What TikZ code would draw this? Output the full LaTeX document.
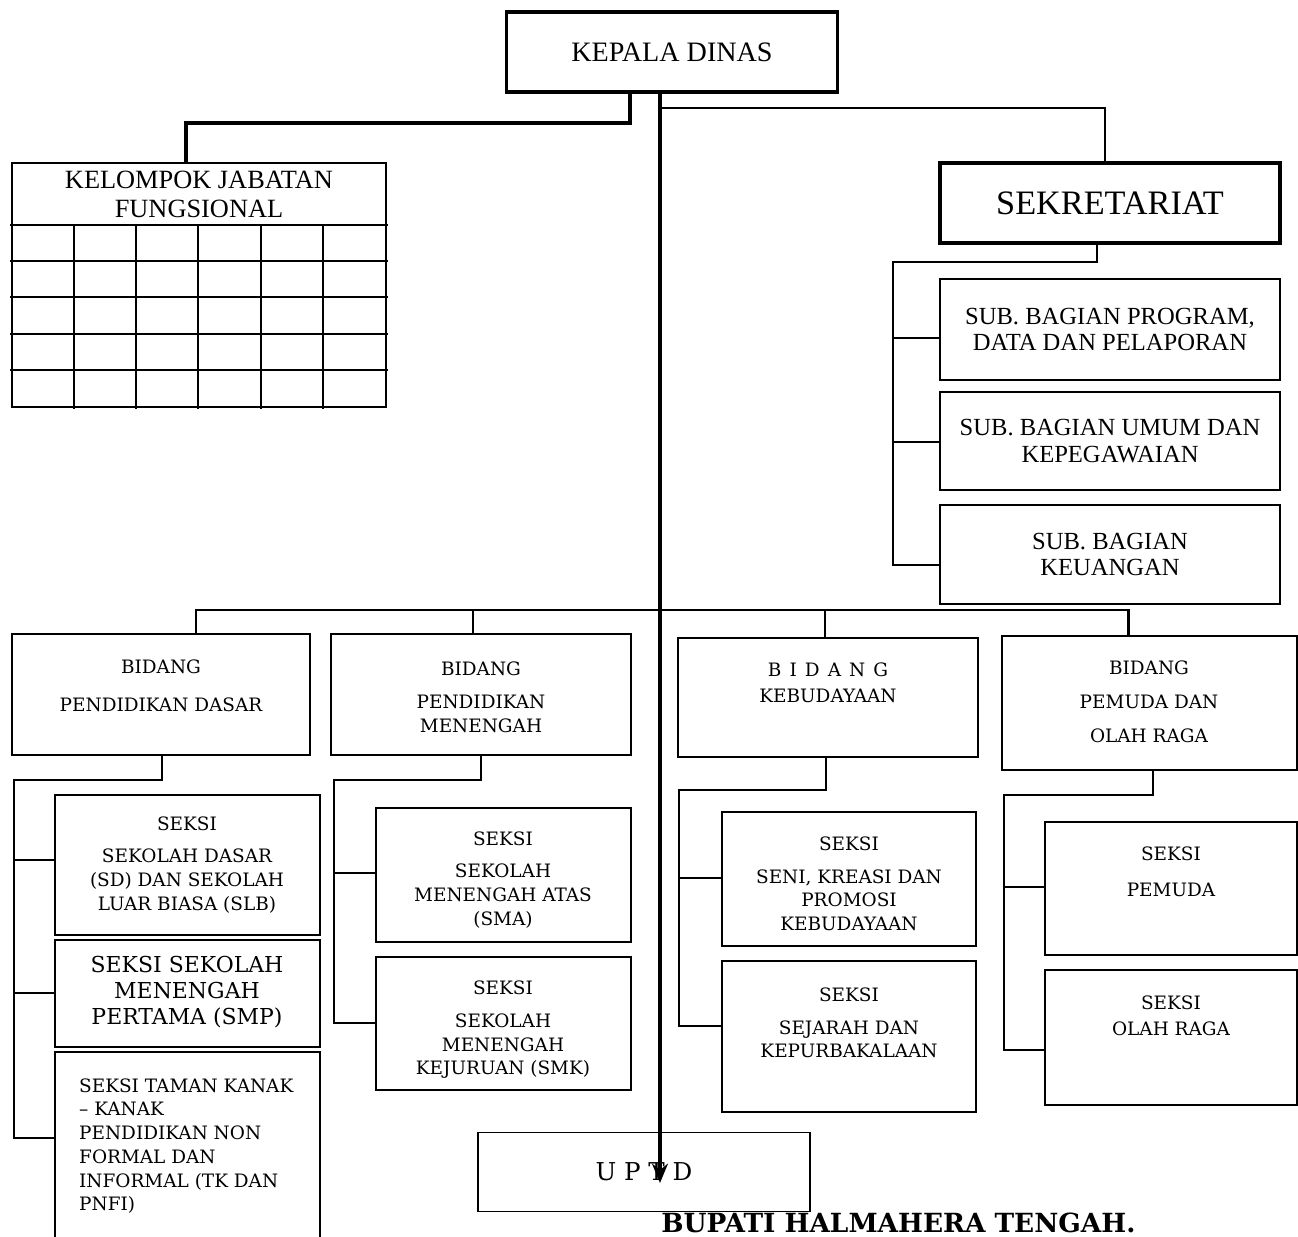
\documentclass[tikz,border=0pt]{standalone}
\usepackage{fontspec}
\setmainfont{Liberation Serif}
\newfontfamily\lowfont{DejaVu Serif}
\usetikzlibrary{arrows.meta,positioning}

\begin{document}
\begin{tikzpicture}[x=0.02cm,y=-0.02cm,line cap=rect,
                    box/.style 2 args={draw,rectangle,line width=1.1pt,inner sep=0pt,
                      minimum width=#1*0.02cm,minimum height=#2*0.02cm},
                    heavybox/.style 2 args={box={#1}{#2},line width=2.2pt}]
  \tikzstyle{toptext}=[align=center,font=\fontsize{14}{15}\selectfont]
  \tikzstyle{lowtext}=[align=center,font=\lowfont\fontsize{10.5}{13.5}\selectfont]
  \tikzstyle{heavy}=[line width=2.3pt]
  \tikzstyle{link}=[line width=0.9pt]
  \tikzstyle{twig}=[line width=1.4pt]
  \tikzstyle{bus}=[line width=1.7pt]

  \path[use as bounding box,fill=white] (0,0) rectangle (1298,1237);

  \node[heavybox={331}{80},font=\fontsize{16}{18}\selectfont]  (kepala) at (672,52)  {KEPALA DINAS};

  \node[box={374}{244},line width=1.4pt] (kjf)   at (199,285)   {};
  \node[toptext,font=\fontsize{15}{16.5}\selectfont] (kjf-t) at (199,194) {KELOMPOK JABATAN\\FUNGSIONAL};
  \foreach \y in {225,261,297,334,370}
    \draw[line width=1.4pt] (kjf.west |- 0,\y) -- (kjf.east |- 0,\y);
  \foreach \x in {74,136,198,261,323}
    \draw[line width=1.4pt] (\x,225) -- (\x,0 |- kjf.south);

  \node[heavybox={340}{80},font=\fontsize{19.5}{21}\selectfont] (sekr)  at (1110,203)   {SEKRETARIAT};
  \node[box={340}{101},toptext] (sub1) at (1110,329.5) {SUB. BAGIAN PROGRAM,\\DATA DAN PELAPORAN};
  \node[box={340}{98},toptext]  (sub2) at (1110,441)   {SUB. BAGIAN UMUM DAN\\KEPEGAWAIAN};
  \node[box={340}{99},toptext]  (sub3) at (1110,554.5) {SUB. BAGIAN\\KEUANGAN};

  \node[box={298}{121}] (bid1) at (161,694.5)  {};
  \node[box={300}{121}] (bid2) at (481,694.5)  {};
  \node[box={300}{119}] (bid3) at (828,697.5)  {};
  \node[box={295}{134}] (bid4) at (1149.5,703) {};
  \node[lowtext] (bid1-t) at (161,686)  {BIDANG\\[8pt]PENDIDIKAN DASAR};
  \node[lowtext] (bid2-t) at (481,697)  {BIDANG\\[5.5pt]PENDIDIKAN\\MENENGAH};
  \node[lowtext] (bid3-t) at (828,683)  {B\hspace{4.6pt}I\hspace{4.6pt}D\hspace{4.6pt}A\hspace{4.6pt}N\hspace{4.6pt}G\\[1pt]KEBUDAYAAN};
  \node[lowtext] (bid4-t) at (1149,702) {BIDANG\\[6pt]PEMUDA DAN\\[6pt]OLAH RAGA};

  \node[box={265}{140}] (sd)  at (187.5,865)    {};
  \node[box={265}{107}] (smp) at (187.5,993.5)  {};
  \node[box={265}{193}] (tk)  at (187.5,1148.5) {};
  \node[lowtext]  (sd-t)  at (187,865)  {SEKSI\\[5pt]SEKOLAH DASAR\\(SD) DAN SEKOLAH\\LUAR BIASA (SLB)};
  \node[lowtext,font=\lowfont\fontsize{12.5}{15}\selectfont]
                  (smp-t) at (187,992)  {SEKSI SEKOLAH\\MENENGAH\\PERTAMA (SMP)};
  \node[lowtext,align=left,anchor=west]
                  (tk-t)  at (73,1146)  {SEKSI TAMAN KANAK\\– KANAK\\PENDIDIKAN NON\\FORMAL DAN\\INFORMAL (TK DAN\\PNFI)};

  \node[box={255}{134}] (sma) at (503.5,875)    {};
  \node[box={255}{133}] (smk) at (503.5,1023.5) {};
  \node[lowtext] (sma-t) at (503,880)  {SEKSI\\[5pt]SEKOLAH\\MENENGAH ATAS\\(SMA)};
  \node[lowtext] (smk-t) at (503,1030) {SEKSI\\[5pt]SEKOLAH\\MENENGAH\\KEJURUAN (SMK)};

  \node[box={254}{134}] (seni) at (849,879)    {};
  \node[box={254}{151}] (sej)  at (849,1036.5) {};
  \node[lowtext] (seni-t) at (849,884)  {SEKSI\\[5pt]SENI, KREASI DAN\\PROMOSI\\KEBUDAYAAN};
  \node[lowtext] (sej-t)  at (849,1023) {SEKSI\\[5pt]SEJARAH DAN\\KEPURBAKALAAN};

  \node[box={252}{133}] (pem) at (1171,888.5)  {};
  \node[box={252}{135}] (olr) at (1171,1037.5) {};
  \node[lowtext] (pem-t) at (1171,871.5)  {SEKSI\\[7pt]PEMUDA};
  \node[lowtext] (olr-t) at (1171,1015.5) {SEKSI\\[1.5pt]OLAH RAGA};

  \node[box={332}{79},font=\lowfont\fontsize{14}{16}\selectfont] (uptd) at (644,1172) {U P T D};

  \node[anchor=base west,inner sep=0pt,font=\lowfont\bfseries\fontsize{15}{17}\selectfont]
        (bupati) at (661,1232) {BUPATI HALMAHERA TENGAH.};

  \coordinate (uptd-tip) at (660,1183);

  \draw[heavy] (630,0 |- kepala.south) |- (186,123) -- (186,0 |- kjf.north);
  \draw[link]  (660,108) -| (1105,0 |- sekr.north);
  \draw[link]  (1097,0 |- sekr.south) |- (893,262) -- (893,565);
  \foreach \s/\y in {sub1/338,sub2/442,sub3/565}
    \draw[twig] (893,\y) -- (\s.west |- 0,\y);

  \draw[bus]  (196,0 |- bid1.north) |- (1128,610) -- (1128,0 |- bid4.north);
  \foreach \b/\x in {bid2/473,bid3/825}
    \draw[link] (\x,610) -- (\x,0 |- \b.north);

  \draw[link] (162,0 |- bid1.south) |- (14,780) -- (14,1138);
  \foreach \s/\y in {sd/860,smp/993,tk/1138}
    \draw[link] (14,\y) -- (\s.west |- 0,\y);
  \draw[link] (481,0 |- bid2.south) |- (334,780) -- (334,1023);
  \foreach \s/\y in {sma/873,smk/1023}
    \draw[link] (334,\y) -- (\s.west |- 0,\y);
  \draw[link] (826,0 |- bid3.south) |- (679,790) -- (679,1026);
  \foreach \s/\y in {seni/878,sej/1026}
    \draw[link] (679,\y) -- (\s.west |- 0,\y);
  \draw[link] (1153,0 |- bid4.south) |- (1004,795) -- (1004,1050);
  \foreach \s/\y in {pem/887,olr/1050}
    \draw[link] (1004,\y) -- (\s.west |- 0,\y);

  \draw[heavy,-{Stealth[length=11pt,width=9pt]}] (660,0 |- kepala.south) -- (uptd-tip);
\end{tikzpicture}
\end{document}
